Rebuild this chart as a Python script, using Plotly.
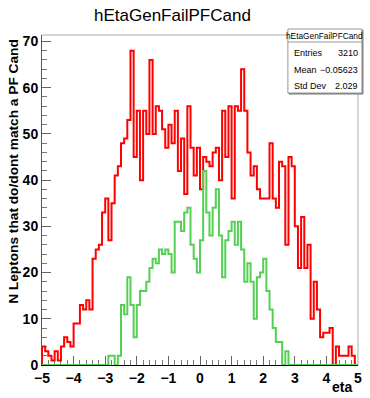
import numpy as np
import plotly.graph_objects as go

# ---------------- data ----------------
x_min, x_max, n_bins = -5.0, 5.0, 100

red_counts = [4, 3, 2, 1, 3, 1, 4, 6, 5, 4, 9, 9, 13, 12, 14, 12, 23, 25, 26, 33, 36, 27, 35, 41, 43,
              48, 49, 53, 68, 45, 55, 40, 55, 50, 66, 50, 56, 55, 51, 47, 52, 48, 55, 42, 49, 37, 56, 47, 41, 47,
              38, 45, 44, 43, 46, 47, 40, 55, 45, 56, 36, 56, 55, 64, 55, 46, 41, 43, 38, 36, 36, 36, 48, 36, 34,
              44, 43, 26, 45, 43, 30, 21, 32, 21, 26, 10, 18, 12, 6, 7, 7, 8, 0, 4, 2, 2, 2, 4, 2, 0]

green_counts = [0] * 21 + [2, 2, 0, 2,
                13, 11, 19, 13, 6, 13, 16, 16, 18, 21, 23, 22, 25, 24, 25, 24, 20, 31, 31, 29, 33, 34, 26, 23, 20,
                27, 42, 33, 28, 34, 38, 28, 19, 27, 29, 31, 26, 31, 25, 18, 22, 18, 10, 19, 20, 23, 16, 12, 8, 5,
                5, 0, 3] + [0] * 22

x_tick_vals = [-5, -4, -3, -2, -1, 0, 1, 2, 3, 4, 5]
y_tick_vals = [0, 10, 20, 30, 40, 50, 60, 70]

hist_title = "hEtaGenFailPFCand"
x_title = "eta"
y_title = "N Leptons that do/dont match a PF Cand"
stats_labels = ["Entries", "Mean", "Std Dev"]
stats_values = ["3210", "\u22120.05623", "2.029"]

# ---------------- geometry ----------------
W, H = 370, 398
L, R, T, B = 42, 8, 35, 33
PW, PH = W - L - R, H - T - B


def px(x):
    return (x - L) / PW


def py(y):
    return (H - B - y) / PH


edges = np.linspace(x_min, x_max, n_bins + 1)
y_max = 1.05 * max(red_counts)


def step(counts):
    xs = [edges[0]] + list(edges) + [edges[-1]]
    ys = [0] + list(counts) + [counts[-1], 0]
    return xs, ys


FONT = "Liberation Sans, Arial, Helvetica, sans-serif"

fig = go.Figure()
rx, ry = step(red_counts)
gx, gy = step(green_counts)
fig.add_trace(go.Scatter(x=rx, y=ry, mode="lines", line=dict(color="#ff0000", width=2, shape="hv"),
                         hoverinfo="skip", showlegend=False))
fig.add_trace(go.Scatter(x=gx, y=gy, mode="lines", line=dict(color="#55d055", width=2, shape="hv"),
                         hoverinfo="skip", showlegend=False))

fig.update_layout(
    width=W, height=H,
    margin=dict(l=L, r=R, t=T, b=B, pad=0),
    paper_bgcolor="white", plot_bgcolor="white",
    font=dict(family=FONT, color="black"),
    showlegend=False,
)

fig.update_xaxes(
    range=[x_min, x_max], showgrid=False, zeroline=False,
    showline=True, linecolor="black", linewidth=1, layer="below traces",
    tickmode="array", tickvals=x_tick_vals,
    ticks="inside", ticklen=9, tickcolor="#666", tickwidth=1,
    tickfont=dict(size=14, family=FONT, weight="bold", color="black"),
    minor=dict(ticks="inside", ticklen=5, dtick=0.2, tick0=-5, tickcolor="#777", showgrid=False),
)
fig.update_yaxes(
    range=[0, y_max], showgrid=False, zeroline=False,
    showline=True, linecolor="#555", linewidth=1, layer="below traces",
    tickmode="array", tickvals=y_tick_vals,
    ticks="inside", ticklen=9, tickcolor="#666", tickwidth=1,
    tickfont=dict(size=14, family=FONT, weight="bold", color="black"),
    minor=dict(ticks="inside", ticklen=4.5, dtick=2, tick0=0, tickcolor="#777", showgrid=False),
)

shapes = []
# frame top and right
shapes.append(dict(type="line", xref="paper", yref="paper", x0=0, x1=1, y0=1, y1=1,
                   line=dict(color="#aaaaaa", width=1)))
shapes.append(dict(type="line", xref="paper", yref="paper", x0=1, x1=1, y0=0, y1=1,
                   line=dict(color="#aaaaaa", width=1)))
# stats box with shadow
bx0, bx1, by0, by1 = 291, 366, 29, 93
shapes.append(dict(type="rect", xref="paper", yref="paper",
                   x0=px(bx0 + 1), x1=px(bx1 + 1), y0=py(by1 + 1), y1=py(by0 + 1),
                   line=dict(color="#777777", width=1), fillcolor="#777777", layer="above"))
shapes.append(dict(type="rect", xref="paper", yref="paper",
                   x0=px(bx0), x1=px(bx1), y0=py(by1), y1=py(by0),
                   line=dict(color="#999999", width=1), fillcolor="white", layer="above"))
shapes.append(dict(type="line", xref="paper", yref="paper",
                   x0=px(bx0), x1=px(bx1), y0=py(42), y1=py(42),
                   line=dict(color="#999999", width=1), layer="above"))
fig.update_layout(shapes=shapes)

ann = []
ann.append(dict(text=hist_title, xref="paper", yref="paper", x=px(174), y=py(15),
                xanchor="center", yanchor="middle", showarrow=False,
                font=dict(size=17, family=FONT, color="black")))
ann.append(dict(text=hist_title, xref="paper", yref="paper", x=px((bx0 + bx1) / 2), y=py(36),
                xanchor="center", yanchor="middle", showarrow=False,
                font=dict(size=8.3, family=FONT, color="black")))
for i, (lab, val) in enumerate(zip(stats_labels, stats_values)):
    yy = [53.5, 70, 86][i]
    ann.append(dict(text=lab, xref="paper", yref="paper", x=px(295), y=py(yy),
                    xanchor="left", yanchor="middle", showarrow=False,
                    font=dict(size=9, family=FONT, color="black")))
    ann.append(dict(text=val, xref="paper", yref="paper", x=px(364), y=py(yy),
                    xanchor="right", yanchor="middle", showarrow=False,
                    font=dict(size=9, family=FONT, color="black")))
ann.append(dict(text=x_title, xref="paper", yref="paper", x=px(358), y=py(387),
                xanchor="right", yanchor="middle", showarrow=False,
                font=dict(size=14, family=FONT, weight="bold", color="black")))
ann.append(dict(text=y_title, xref="paper", yref="paper", x=px(13), y=py(37),
                xanchor="center", yanchor="top", textangle=-90, showarrow=False,
                font=dict(size=13.7, family=FONT, weight="bold", color="black")))
fig.update_layout(annotations=ann)

fig.write_html("out.html")
